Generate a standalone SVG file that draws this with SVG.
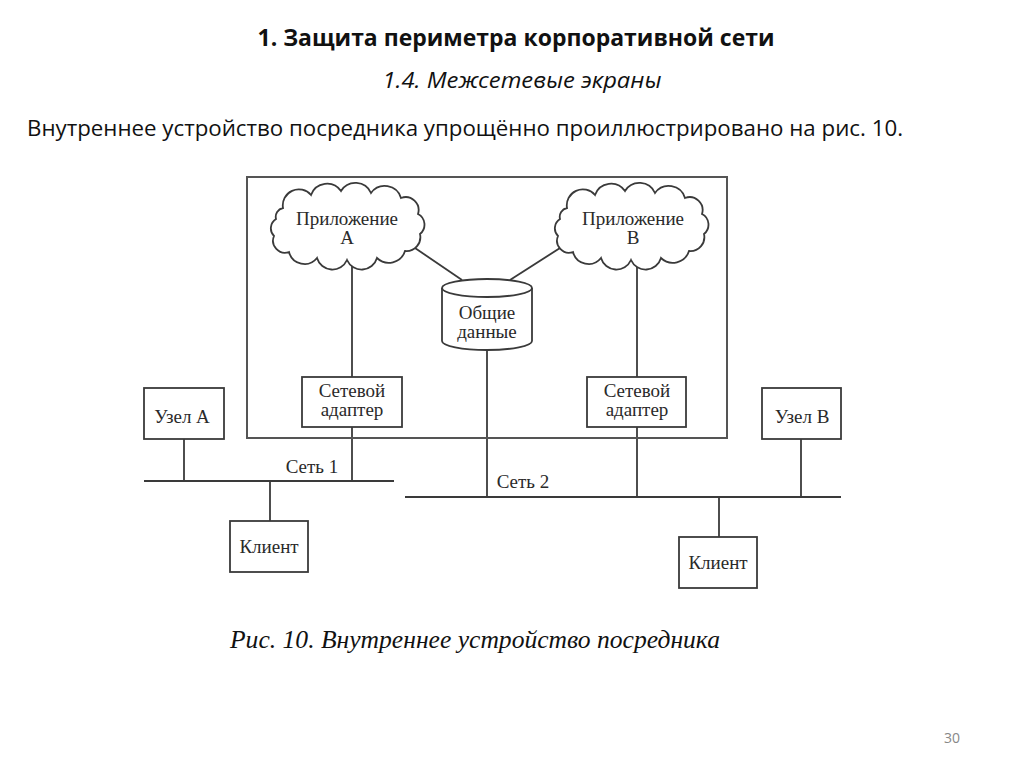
<svg xmlns="http://www.w3.org/2000/svg" xmlns:xlink="http://www.w3.org/1999/xlink" width="1024" height="767" viewBox="0 0 1024 767">
<style>
.ln{stroke:#3a3a3a;stroke-width:1.8;fill:none}
.bx{stroke:#3a3a3a;stroke-width:1.8;fill:#fff}
.lbl{font-family:"Liberation Serif","DejaVu Serif",serif;font-size:19px;fill:#2a2a2a;text-anchor:middle}
.hdr{font-family:"Open Sans","Liberation Sans",sans-serif;fill:#111}
.cap{font-family:"Liberation Serif",serif;font-size:25px;font-style:italic;fill:#111}
</style>
<defs>
<path id="cloud" d="M-64,-18 A16,16 0 0 1 -36,-31 A17,17 0 0 1 -6,-35 A17,17 0 0 1 24,-33 A17,17 0 0 1 54,-28 A13,13 0 0 1 71,-12 A12,12 0 0 1 73,8 A14,14 0 0 1 58,25 A17,17 0 0 1 30,32 A16,16 0 0 1 0,34 A16,16 0 0 1 -30,32 A16,16 0 0 1 -58,26 A12,12 0 0 1 -73,10 A11,11 0 0 1 -71,-7 A9,9 0 0 1 -64,-18 Z"/>
</defs>
<rect width="1024" height="767" fill="#fff"/>
<text class="hdr" x="516" y="46" font-size="23" font-weight="bold" text-anchor="middle" textLength="517" lengthAdjust="spacingAndGlyphs">1. Защита периметра корпоративной сети</text>
<text class="hdr" x="522" y="88" font-size="21" font-style="italic" text-anchor="middle" textLength="279" lengthAdjust="spacingAndGlyphs">1.4. Межсетевые экраны</text>
<text class="hdr" x="27" y="136" font-size="21" textLength="876" lengthAdjust="spacingAndGlyphs">Внутреннее устройство посредника упрощённо проиллюстрировано на рис. 10.</text>

<g id="connectors">
<line class="ln" x1="415" y1="248" x2="462" y2="280"/>
<line class="ln" x1="560" y1="248" x2="510" y2="280"/>
<line class="ln" x1="352" y1="261" x2="352" y2="377"/>
<line class="ln" x1="637" y1="261" x2="637" y2="377"/>
<line class="ln" x1="352" y1="427" x2="352" y2="481"/>
<line class="ln" x1="637" y1="427" x2="637" y2="497"/>
<line class="ln" x1="487" y1="350" x2="487" y2="497"/>
<line class="ln" x1="184" y1="439" x2="184" y2="481"/>
<line class="ln" x1="270" y1="481" x2="270" y2="521"/>
<line class="ln" x1="801" y1="439" x2="801" y2="497"/>
<line class="ln" x1="719" y1="497" x2="719" y2="537"/>
</g>

<g id="frame">
<rect x="247" y="177" width="480" height="261" fill="none" stroke="#555" stroke-width="2"/>
</g>

<g id="net1">
<line class="ln" x1="144" y1="481" x2="394" y2="481"/>
<text class="lbl" x="312" y="473">Сеть 1</text>
</g>
<g id="net2">
<line class="ln" x1="405" y1="497" x2="841" y2="497"/>
<text class="lbl" x="523" y="488">Сеть 2</text>
</g>

<g id="appA">
<use xlink:href="#cloud" href="#cloud" transform="translate(347,226)" class="bx"/>
<text class="lbl" x="347" y="225">Приложение</text>
<text class="lbl" x="347" y="244">А</text>
</g>
<g id="appB">
<use xlink:href="#cloud" href="#cloud" transform="translate(631,226)" class="bx"/>
<text class="lbl" x="633" y="225">Приложение</text>
<text class="lbl" x="633" y="244">В</text>
</g>

<g id="data">
<path class="bx" d="M442,288 L442,341 A45,9 0 0 0 532,341 L532,288 A45,9 0 0 0 442,288 Z"/>
<path class="ln" d="M442,288 A45,9 0 0 0 532,288"/>
<text class="lbl" x="487" y="319">Общие</text>
<text class="lbl" x="487" y="338">данные</text>
</g>

<g id="adapterA">
<rect class="bx" x="302" y="377" width="100" height="50"/>
<text class="lbl" x="352" y="397">Сетевой</text>
<text class="lbl" x="352" y="416">адаптер</text>
</g>
<g id="adapterB">
<rect class="bx" x="587" y="377" width="99" height="50"/>
<text class="lbl" x="637" y="397">Сетевой</text>
<text class="lbl" x="637" y="416">адаптер</text>
</g>

<g id="nodeA">
<rect class="bx" x="144" y="388" width="80" height="51"/>
<text class="lbl" x="182" y="423">Узел А</text>
</g>
<g id="nodeB">
<rect class="bx" x="762" y="388" width="79" height="51"/>
<text class="lbl" x="802" y="423">Узел В</text>
</g>
<g id="clientA">
<rect class="bx" x="230" y="521" width="78" height="51"/>
<text class="lbl" x="269" y="553">Клиент</text>
</g>
<g id="clientB">
<rect class="bx" x="679" y="537" width="78" height="51"/>
<text class="lbl" x="718" y="569">Клиент</text>
</g>

<text class="cap" x="230" y="648" textLength="490" lengthAdjust="spacingAndGlyphs">Рис. 10. Внутреннее устройство посредника</text>
<text x="960" y="743" font-family="'Open Sans', 'Liberation Sans', sans-serif" font-size="14" fill="#888" text-anchor="end">30</text>
</svg>
